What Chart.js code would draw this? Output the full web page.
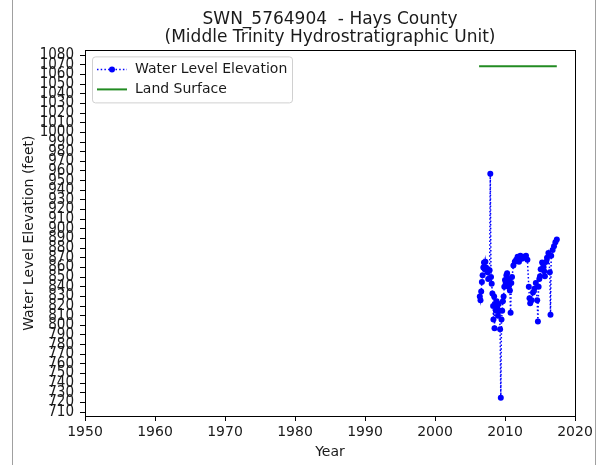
<!DOCTYPE html>
<html>
<head>
<meta charset="utf-8">
<script src="https://cdn.jsdelivr.net/npm/chart.js@4.4.1/dist/chart.umd.min.js"></script>
<style>
  html, body { margin: 0; padding: 0; background: #fff; }
  #wrap { width: 605px; height: 465px; position: relative; }
</style>
</head>
<body>
<div id="wrap"><canvas id="levelChart" width="605" height="465"></canvas></div>
<script>
// measurement dates (decimal year) and water level elevation (feet)
const years = [
    2006.4, 2006.5, 2006.6, 2006.7, 2006.8, 2006.9, 2007.0, 2007.1, 2007.2, 2007.3,
    2007.5, 2007.6, 2007.8, 2007.9, 2008.0, 2008.1, 2008.2, 2008.3, 2008.35, 2008.45,
    2008.5, 2008.6, 2008.7, 2008.8, 2008.9, 2009.0, 2009.1, 2009.2, 2009.3, 2009.4,
    2009.5, 2009.6, 2009.7, 2009.8, 2009.9, 2010.0, 2010.1, 2010.2, 2010.3, 2010.4,
    2010.5, 2010.6, 2010.7, 2010.8, 2010.9, 2011.0, 2011.2, 2011.4, 2011.6, 2011.8,
    2012.0, 2012.2, 2012.4, 2012.6, 2012.8, 2013.0, 2013.2, 2013.4, 2013.5, 2013.6,
    2013.8, 2014.0, 2014.2, 2014.4, 2014.6, 2014.7, 2014.8, 2014.9, 2015.0, 2015.1,
    2015.3, 2015.5, 2015.6, 2015.7, 2015.9, 2016.0, 2016.2, 2016.4, 2016.5, 2016.6,
    2016.8, 2017.0, 2017.2, 2017.4
];
const levels = [
    830, 826, 835, 845, 852, 860, 865, 858, 866, 860,
    855, 848, 857, 957, 850, 843, 833, 820, 806, 830,
    797, 822, 815, 825, 818, 810, 822, 815, 796, 725,
    806, 815, 825, 830, 840, 847, 844, 852, 854, 848,
    840, 846, 836, 813, 844, 850, 862, 866, 868, 871,
    866, 872, 869, 871, 870, 872, 868, 840, 828, 823,
    826, 834, 838, 844, 826, 804, 840, 848, 851, 858,
    865, 861, 856, 851, 866, 870, 875, 855, 811, 872,
    878, 882, 886, 889
];
const landYears = [2006.3, 2017.4];
const landLevels = [1068.5, 1068.5];

const xTicks = [1950, 1960, 1970, 1980, 1990, 2000, 2010, 2020];
const yTicks = [
    710, 720, 730, 740, 750, 760, 770, 780, 790, 800,
    810, 820, 830, 840, 850, 860, 870, 880, 890, 900,
    910, 920, 930, 940, 950, 960, 970, 980, 990, 1000,
    1010, 1020, 1030, 1040, 1050, 1060, 1070, 1080
];

const FONT = '"DejaVu Sans", sans-serif';
const TICKFONT = '"DejaVu Sans Condensed", "DejaVu Sans", sans-serif';
const INK = '#1a1a1a';

// box around the plot + outer frame lines of the picture
const framePlugin = {
    id: 'frame',
    beforeDraw(chart) {
        const c = chart.ctx;
        c.save();
        c.strokeStyle = '#a0a0a0';
        c.lineWidth = 1;
        c.beginPath();
        c.moveTo(12.5, 0); c.lineTo(12.5, 465);
        c.moveTo(595.5, 0); c.lineTo(595.5, 465);
        c.stroke();
        c.restore();
    },
    afterDraw(chart) {
        const a = chart.chartArea;
        const c = chart.ctx;
        c.save();
        c.strokeStyle = '#000';
        c.lineWidth = 1;
        c.strokeRect(Math.round(a.left) + 0.5, Math.round(a.top) + 0.5,
            Math.round(a.right - a.left), Math.round(a.bottom - a.top));
        c.restore();
    }
};

// matplotlib-style legend inside the upper left corner
const legendPlugin = {
    id: 'innerLegend',
    afterDraw(chart) {
        const a = chart.chartArea;
        const c = chart.ctx;
        const x = a.left + 7, y = a.top + 6, w = 200, h = 46;
        c.save();
        c.fillStyle = 'rgba(255,255,255,0.8)';
        c.strokeStyle = '#d0d0d0';
        c.lineWidth = 1;
        c.beginPath();
        c.roundRect(x + 0.5, y + 0.5, w, h, 3);
        c.fill();
        c.stroke();

        c.font = '14px ' + FONT;
        c.fillStyle = INK;
        c.textBaseline = 'middle';
        chart.data.datasets.forEach((ds, i) => {
            const ly = y + 13 + i * 20;
            c.strokeStyle = ds.borderColor;
            c.lineWidth = ds.borderWidth;
            c.setLineDash(ds.borderDash || []);
            c.beginPath();
            c.moveTo(x + 5, ly);
            c.lineTo(x + 35, ly);
            c.stroke();
            c.setLineDash([]);
            if (ds.pointRadius > 0) {
                c.fillStyle = ds.pointBackgroundColor;
                c.beginPath();
                c.arc(x + 20, ly, ds.pointRadius, 0, Math.PI * 2);
                c.fill();
            }
            c.fillStyle = INK;
            c.fillText(ds.label, x + 43, ly);
        });
        c.restore();
    }
};

const ctx = document.getElementById('levelChart').getContext('2d');
const levelChart = new Chart(ctx, {
    type: 'scatter',
    data: {
        datasets: [
            {
                label: 'Water Level Elevation',
                data: years.map((yr, i) => ({ x: yr, y: levels[i] })),
                showLine: true,
                borderColor: '#0000ff',
                borderWidth: 1.5,
                borderDash: [1.5, 2.2],
                pointRadius: 3,
                pointBackgroundColor: '#0000ff',
                pointBorderWidth: 0
            },
            {
                label: 'Land Surface',
                data: landYears.map((yr, i) => ({ x: yr, y: landLevels[i] })),
                showLine: true,
                borderColor: '#228b22',
                borderWidth: 2,
                pointRadius: 0
            }
        ]
    },
    options: {
        responsive: false,
        animation: false,
        devicePixelRatio: 1,
        layout: { padding: { left: 0, right: 30, top: 0, bottom: 0 } },
        plugins: {
            legend: { display: false },
            tooltip: { enabled: false },
            title: {
                display: true,
                fullSize: false,
                text: ['SWN_5764904  - Hays County', '(Middle Trinity Hydrostratigraphic Unit)'],
                color: INK,
                font: { family: FONT, size: 17, weight: 'normal', lineHeight: 1.1 },
                padding: { top: 10, bottom: 3 }
            }
        },
        scales: {
            x: {
                type: 'linear',
                min: 1950,
                max: 2020,
                afterBuildTicks: s => { s.ticks = xTicks.map(v => ({ value: v })); },
                afterFit: s => { s.height = 49; },
                grid: { drawOnChartArea: false, drawTicks: true, tickLength: 5, color: '#000' },
                border: { display: false },
                ticks: {
                    color: INK,
                    font: { family: FONT, size: 14 },
                    padding: 3,
                    maxRotation: 0,
                    callback: v => String(v)
                },
                title: {
                    display: true,
                    text: 'Year',
                    color: INK,
                    font: { family: FONT, size: 14 },
                    padding: { top: 0, bottom: 4 }
                }
            },
            y: {
                min: 706,
                max: 1085,
                afterBuildTicks: s => { s.ticks = yTicks.map(v => ({ value: v })); },
                afterFit: s => { s.width = 85; },
                grid: { drawOnChartArea: false, drawTicks: true, tickLength: 5, color: '#000' },
                border: { display: false },
                ticks: {
                    autoSkip: false,
                    color: INK,
                    font: { family: TICKFONT, size: 15 },
                    padding: 6,
                    callback: v => String(v)
                },
                title: {
                    display: true,
                    text: 'Water Level Elevation (feet)',
                    color: INK,
                    font: { family: FONT, size: 14 },
                    padding: { top: 21, bottom: 0 }
                }
            }
        }
    },
    plugins: [framePlugin, legendPlugin]
});
</script>
</body>
</html>
